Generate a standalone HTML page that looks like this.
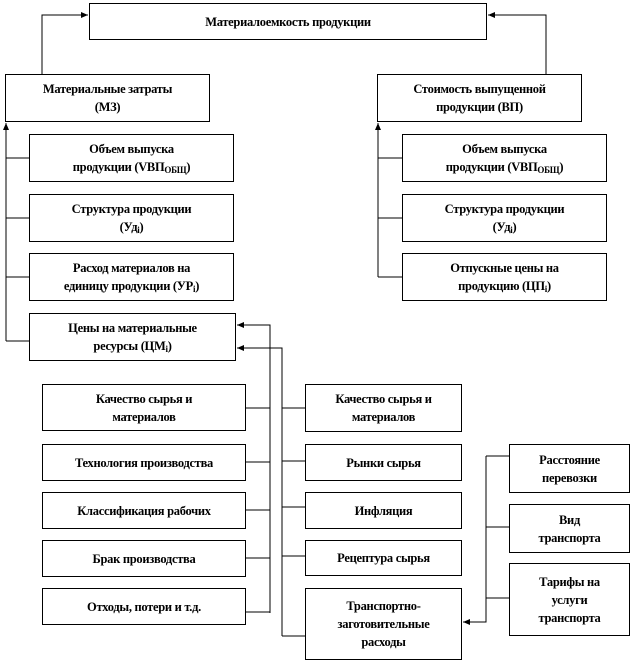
<!DOCTYPE html>
<html><head><meta charset="utf-8"><style>
body{margin:0;width:633px;height:662px;background:#fff;position:relative;overflow:hidden}
.b{position:absolute;border:1px solid #000;box-sizing:border-box;display:flex;align-items:center;justify-content:center;text-align:center;font-family:"Liberation Serif","DejaVu Serif",serif;font-weight:bold;font-size:12.5px;line-height:18px;letter-spacing:-0.3px;background:#fff}
.b>span{display:block}
svg{position:absolute;left:0;top:0}
sub{font-size:9px;vertical-align:-2px;line-height:0}
</style></head><body>
<svg width="633" height="662" stroke="#000" stroke-width="1" fill="none">
<defs><marker id="a" markerWidth="8" markerHeight="6" refX="7" refY="3" orient="auto" markerUnits="userSpaceOnUse"><path d="M0,0 L7,3 L0,6z" fill="#000" stroke="none"/></marker></defs>
<polyline points="42,74 42,15 88,15" marker-end="url(#a)"/>
<polyline points="546,74 546,15 488,15" marker-end="url(#a)"/>
<polyline points="6,341 6,123" marker-end="url(#a)"/>
<line x1="6" y1="158" x2="29" y2="158"/><line x1="6" y1="218" x2="29" y2="218"/><line x1="6" y1="277" x2="29" y2="277"/><line x1="6" y1="341" x2="29" y2="341"/>
<polyline points="378,277 378,123" marker-end="url(#a)"/>
<line x1="378" y1="158" x2="402" y2="158"/><line x1="378" y1="218" x2="402" y2="218"/><line x1="378" y1="277" x2="402" y2="277"/>
<polyline points="270,613 270,325 237,325" marker-end="url(#a)"/>
<polyline points="282,636 282,348 237,348" marker-end="url(#a)"/>
<line x1="245" y1="408" x2="270" y2="408"/><line x1="245" y1="462" x2="270" y2="462"/><line x1="245" y1="510" x2="270" y2="510"/><line x1="245" y1="558" x2="270" y2="558"/><line x1="245" y1="612" x2="270" y2="612"/>
<line x1="282" y1="408" x2="305" y2="408"/><line x1="282" y1="461" x2="305" y2="461"/><line x1="282" y1="507" x2="305" y2="507"/><line x1="282" y1="556" x2="305" y2="556"/><line x1="282" y1="636" x2="305" y2="636"/>
<polyline points="486,456 486,622 463,622" marker-end="url(#a)"/>
<line x1="486" y1="456" x2="509" y2="456"/><line x1="486" y1="527" x2="509" y2="527"/><line x1="486" y1="598" x2="509" y2="598"/>
</svg>
<div class="b" style="left:89px;top:3px;width:398px;height:37px"><span>Материалоемкость продукции</span></div>
<div class="b" style="left:5px;top:74px;width:205px;height:48px"><span>Материальные затраты<br>(МЗ)</span></div>
<div class="b" style="left:377px;top:74px;width:205px;height:48px"><span>Стоимость выпущенной<br>продукции (ВП)</span></div>
<div class="b" style="left:29px;top:134px;width:205px;height:48px"><span>Объем выпуска<br>продукции (VВП<sub>ОБЩ</sub>)</span></div>
<div class="b" style="left:29px;top:194px;width:205px;height:48px"><span>Структура продукции<br>(Уд<sub>i</sub>)</span></div>
<div class="b" style="left:29px;top:253px;width:205px;height:48px"><span>Расход материалов на<br>единицу продукции (УР<sub>i</sub>)</span></div>
<div class="b" style="left:29px;top:313px;width:207px;height:48px"><span>Цены на материальные<br>ресурсы (ЦМ<sub>i</sub>)</span></div>
<div class="b" style="left:402px;top:134px;width:205px;height:48px"><span>Объем выпуска<br>продукции (VВП<sub>ОБЩ</sub>)</span></div>
<div class="b" style="left:402px;top:194px;width:205px;height:48px"><span>Структура продукции<br>(Уд<sub>i</sub>)</span></div>
<div class="b" style="left:402px;top:253px;width:205px;height:48px"><span>Отпускные цены на<br>продукцию (ЦП<sub>i</sub>)</span></div>
<div class="b" style="left:42px;top:384px;width:204px;height:47px"><span>Качество сырья и<br>материалов</span></div>
<div class="b" style="left:42px;top:444px;width:204px;height:37px"><span>Технология производства</span></div>
<div class="b" style="left:42px;top:492px;width:204px;height:37px"><span>Классификация рабочих</span></div>
<div class="b" style="left:42px;top:540px;width:204px;height:37px"><span>Брак производства</span></div>
<div class="b" style="left:42px;top:588px;width:204px;height:37px"><span>Отходы, потери и т.д.</span></div>
<div class="b" style="left:305px;top:384px;width:157px;height:48px"><span>Качество сырья и<br>материалов</span></div>
<div class="b" style="left:305px;top:444px;width:157px;height:37px"><span>Рынки сырья</span></div>
<div class="b" style="left:305px;top:492px;width:157px;height:37px"><span>Инфляция</span></div>
<div class="b" style="left:305px;top:540px;width:157px;height:36px"><span>Рецептура сырья</span></div>
<div class="b" style="left:305px;top:588px;width:157px;height:72px"><span>Транспортно-<br>заготовительные<br>расходы</span></div>
<div class="b" style="left:509px;top:444px;width:121px;height:49px"><span>Расстояние<br>перевозки</span></div>
<div class="b" style="left:509px;top:504px;width:121px;height:49px"><span>Вид<br>транспорта</span></div>
<div class="b" style="left:509px;top:563px;width:121px;height:73px"><span>Тарифы на<br>услуги<br>транспорта</span></div>
</body></html>
